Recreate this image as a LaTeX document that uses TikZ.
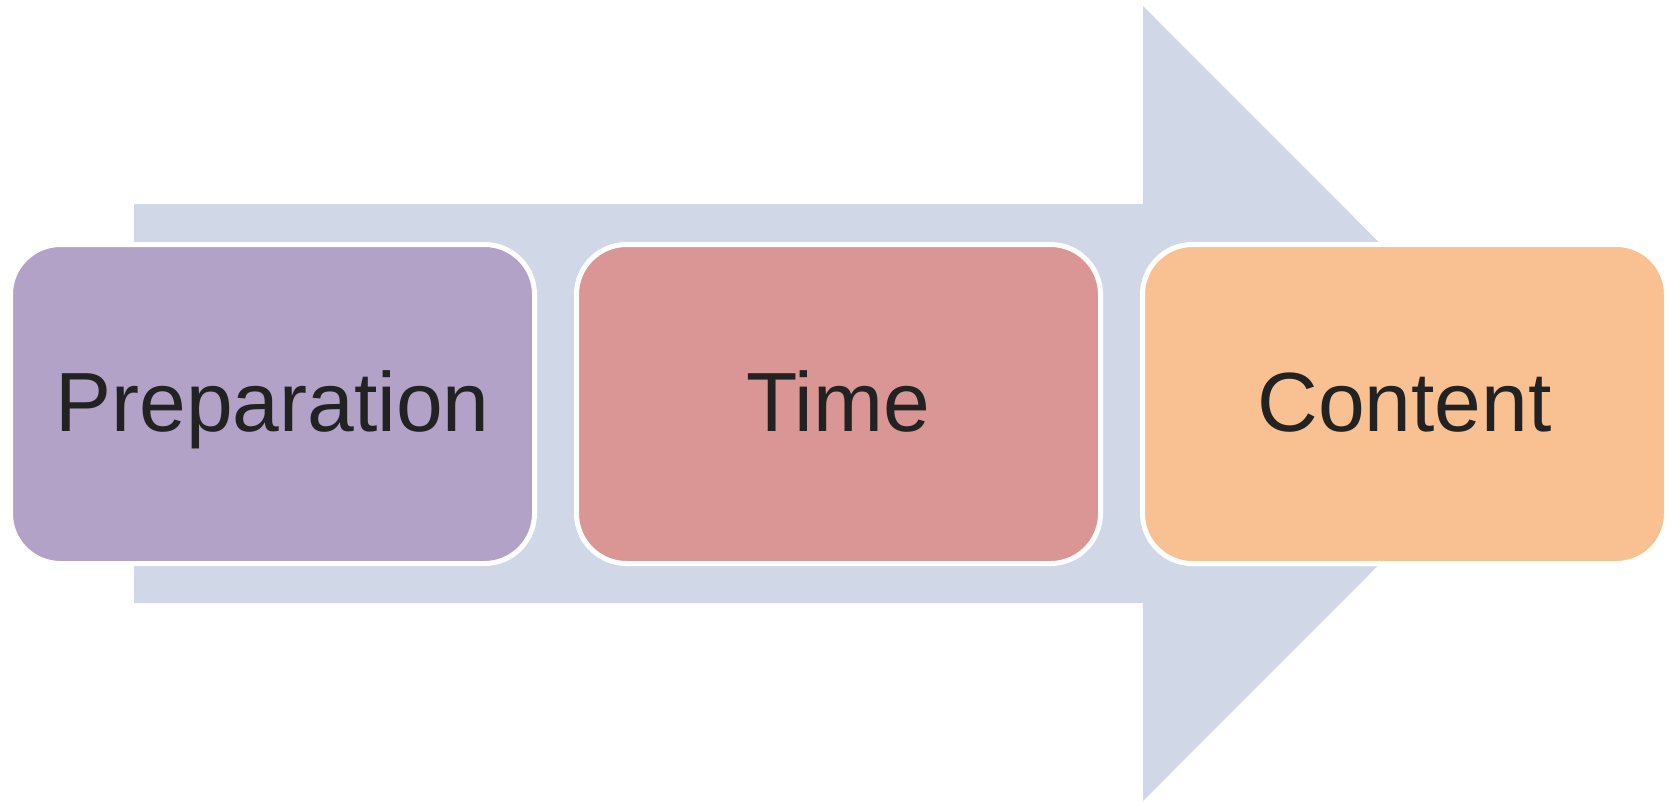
\documentclass[tikz,border=0pt]{standalone}
\usepackage{fontspec}
\setmainfont{Liberation Sans}
\definecolor{arrowc}{HTML}{D0D8E8}
\definecolor{purplec}{HTML}{B2A2C7}
\definecolor{redc}{HTML}{D99694}
\definecolor{orangec}{HTML}{F9C091}
\definecolor{textc}{HTML}{222222}
\tikzset{
  stagebox/.style={draw=white, line width=5pt, rounded corners=50pt,
    minimum width=524pt, minimum height=319pt, inner sep=0pt,
    text=textc, font=\fontsize{84}{100}\selectfont,
    text height=61pt, text depth=7pt}
}
\begin{document}
\begin{tikzpicture}[x=1pt,y=-1pt]
\useasboundingbox (0,0) rectangle (1669,801);
\fill[arrowc] (134,204) -- (1143,204) -- (1143,6) -- (1540,403.5)
  -- (1143,801) -- (1143,603) -- (134,603) -- cycle;
\node[stagebox, fill=purplec] (prep) at (272.5,404) {Preparation};
\node[stagebox, fill=redc] (time) at (838.5,404) {Time};
\node[stagebox, fill=orangec] (content) at (1404.5,404) {Content};
\end{tikzpicture}
\end{document}
